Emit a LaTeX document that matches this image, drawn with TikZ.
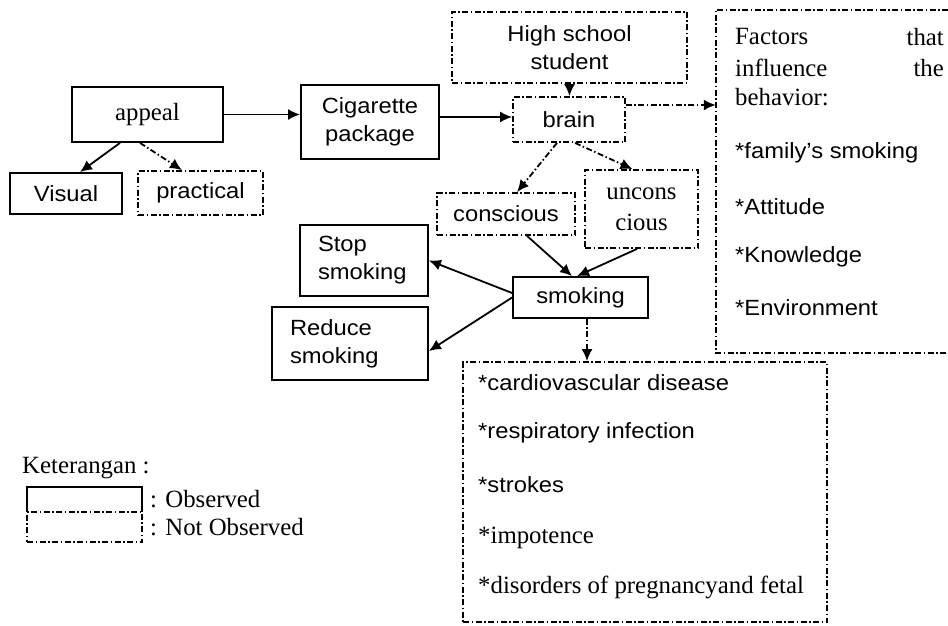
\documentclass[tikz,border=0pt]{standalone}
\usepackage{fontspec}
\setmainfont{Liberation Serif}
\setsansfont{Liberation Sans}[FakeStretch=1.08]
\usetikzlibrary{arrows.meta}
\begin{document}
\begin{tikzpicture}[x=1pt,y=-1pt,
  dashdot/.style={dash pattern=on 6pt off 2.5pt on 1.5pt off 2.5pt},
  ln/.style={line width=1.8pt},
  obs/.style={draw, ln, rectangle, inner sep=0pt},
  nobs/.style={draw, ln, dashdot, rectangle, inner sep=0pt},
  sf/.style={font=\sffamily\fontsize{22}{28}\selectfont},
  rm/.style={font=\rmfamily\fontsize{24.8}{31}\selectfont},
  txt/.style={anchor=west, inner sep=0pt},
  arr/.style={ln, -{Latex[length=12pt,width=11pt]}},
  darr/.style={arr, dashdot},
]
\useasboundingbox (0,0) rectangle (948,626);

% boxes
\node[obs, rm, minimum width=151pt, minimum height=55pt] (appeal) at (147.5,114.5) {appeal};
\node[obs, sf, minimum width=112pt, minimum height=41pt] (visual) at (66,193.5) {Visual};
\node[nobs, sf, minimum width=125pt, minimum height=44pt] (practical) at (200.5,193) {practical};
\node[obs, sf, align=center, minimum width=138pt, minimum height=74pt] (cig) at (370,122) {Cigarette\\package};
\node[nobs, sf, align=center, minimum width=235pt, minimum height=71pt] (hss) at (569.5,47.5) {High school\\student};
\node[nobs, sf, minimum width=112pt, minimum height=45pt] (brain) at (569,119.5) {brain};
\node[nobs, sf, minimum width=138pt, minimum height=42pt] (conscious) at (506,214) {conscious};
\node[nobs, rm, align=center, minimum width=113pt, minimum height=78pt] (uncons) at (641.5,209) {uncons\\cious};
\node[obs, sf, align=left, text width=92pt, inner xsep=18pt, minimum height=71pt] (stop) at (364,260.5) {Stop\\smoking};
\node[obs, sf, align=left, text width=120pt, inner xsep=18pt, minimum height=73pt] (reduce) at (350,343.5) {Reduce\\smoking};
\node[obs, sf, minimum width=135pt, minimum height=41pt] (smoking) at (580.5,297.5) {smoking};

% diseases box
\node[nobs, minimum width=364pt, minimum height=260pt] (dis) at (645,492) {};
\node[txt, sf] (d1) at (478,383) {*cardiovascular disease};
\node[txt, sf] (d2) at (478,433) {*respiratory infection};
\node[txt, sf] (d3) at (478,485) {*strokes};
\node[txt, rm] (d4) at (478,538) {*impotence};
\node[txt, rm] (d5) at (478,587) {*disorders of pregnancyand fetal};

% factors box (open at the right edge)
\node[inner sep=0pt, minimum width=232pt, minimum height=343pt] (factors) at (832,181.5) {};
\draw[ln, dashdot] (factors.north east) -- (factors.north west) -- (factors.south west) -- (factors.south east);
\node[txt, rm] (f1a) at (735,37) {Factors};
\node[inner sep=0pt, anchor=east, rm] (f1b) at (944,37) {that};
\node[txt, rm] (f2a) at (735,68) {influence};
\node[inner sep=0pt, anchor=east, rm] (f2b) at (944,68) {the};
\node[txt, rm] (f3) at (735,97) {behavior:};
\node[txt, sf] (f4) at (735,153) {*family's smoking};
\node[txt, sf] (f5) at (735,207) {*Attitude};
\node[txt, sf] (f6) at (735,257) {*Knowledge};
\node[txt, sf] (f7) at (735,308) {*Environment};

% connectors
\draw[arr] ([xshift=-27.5pt]appeal.south) -- ([xshift=14pt]visual.north);
\draw[darr] ([xshift=-7.5pt]appeal.south) -- ([xshift=-18.5pt]practical.north);
\draw[arr] (appeal.east) -- (appeal.east -| cig.west);
\draw[arr] ([yshift=5pt]cig.east) -- ([yshift=5pt]cig.east -| brain.west);
\draw[darr] (hss.south) -- (hss.south |- brain.north);
\draw[darr] ([yshift=14.5pt]brain.east) -- ([yshift=14.5pt]brain.east -| factors.west);
\draw[darr] ([xshift=-12pt]brain.south) -- ([xshift=11pt]conscious.north);
\draw[darr] ([xshift=6pt]brain.south) -- ([xshift=-9pt]uncons.north);
\draw[arr] ([xshift=21pt]conscious.south) -- ([xshift=-8.5pt]smoking.north);
\draw[arr] ([xshift=-4.5pt]uncons.south) -- ([xshift=-3.5pt]smoking.north);
\draw[arr] ([yshift=4.5pt]smoking.west) -- (stop.east);
\draw[arr] (smoking.west) -- ([yshift=-7.5pt]reduce.east);
\draw[darr] ([xshift=6.5pt]smoking.south) -- ([xshift=6.5pt]smoking.south |- dis.north);

% legend
\node[txt, rm] (ket) at (22,468) {Keterangan :};
\node[inner sep=0pt, minimum width=115pt, minimum height=25pt] (lobs) at (84.5,499.5) {};
\draw[ln] (lobs.south west) -- (lobs.north west) -- (lobs.north east) -- (lobs.south east);
\node[nobs, minimum width=115pt, minimum height=30pt] (lnobs) at (84.5,527) {};
\node[txt, rm] (lt1) at (150,499) {: Observed};
\node[txt, rm] (lt2) at (150,527) {: Not Observed};
\end{tikzpicture}
\end{document}
